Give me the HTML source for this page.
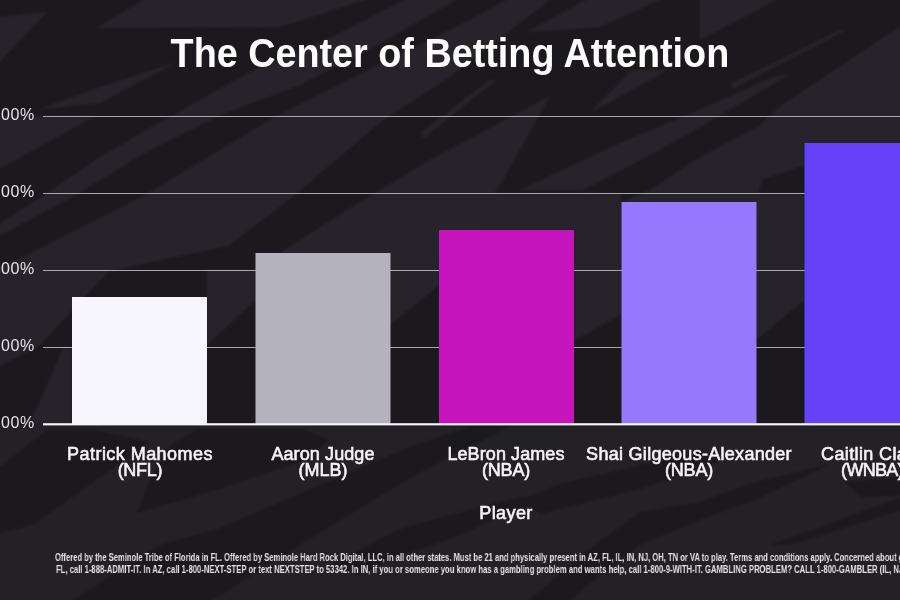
<!DOCTYPE html>
<html><head><meta charset="utf-8">
<style>
html,body{margin:0;padding:0;}
body{width:900px;height:600px;overflow:hidden;position:relative;background:#201d23;font-family:"Liberation Sans",sans-serif;color:#fff;}
#bg{position:absolute;left:0;top:0;}
.t{position:absolute;white-space:nowrap;will-change:transform;}
.title{left:0;width:900px;top:33px;font-size:40px;line-height:40px;font-weight:bold;text-align:center;color:#fcfcfd;}
.title span{display:inline-block;transform:scaleX(0.944);transform-origin:center;}
.ylab{position:absolute;will-change:transform;left:-59.5px;letter-spacing:0.7px;width:94px;font-size:16px;line-height:16px;color:#e4e3e6;text-align:right;}
.xl{position:absolute;will-change:transform;width:300px;font-size:18px;line-height:18px;text-align:center;color:#f4f3f6;-webkit-text-stroke:0.6px #f4f3f6;}
.foot{position:absolute;will-change:transform;white-space:nowrap;font-size:10px;line-height:10px;color:#e4e2e7;font-weight:bold;transform-origin:left top;}
</style></head><body>
<svg id="bg" width="900" height="600" viewBox="0 0 900 600">
<g id="streaks" fill="#26232a" style="filter:blur(1.2px)">
<polygon points="-8,-8 908,-8 908,424 -8,424" fill="#1c191e"/>
<polygon points="-8,426 908,426 908,608 -8,608" fill="#232026"/>
<polygon points="-8,17.5 47,12 -8,70"/>
<polygon points="96,28 157,-8 388,-8 280,27"/>
<polygon points="37,110 100,87 177,62 100,103"/>
<polygon points="-8,116 95,116 -8,173"/>
<polygon points="-8,228 42,197 100,157 150,128 250,72 330,38 420,-8 470,-8 372,48 300,85 225,113 150,150 72,197 -8,240"/>
<polygon points="17,260 145,195 273,118 372,68 470,20 520,-8 560,-8 450,77 383,120 290,199 228,246 150,262 108,272 40,345 -8,370 -8,270"/>
<polygon points="63,348 72,348 72,424 30,424"/>
<polygon points="-8,330 22,330 -8,367"/>
<polygon points="255,269 347,210 430,160 550,96 503,180 480,215 470,240 439,260 439,285 390,325 390,300"/>
<polygon points="207,270 255,270 255,300 207,345"/>
<polygon points="574,205 600,193 621,193 621,314 574,341"/>
<polygon points="756,193 804,193 804,300 756,340"/>
<polygon points="527,32 600,-8 677,-8 600,27"/>
<polygon points="700,40 791,-8 700,-8"/>
<polygon points="420,133 490,80 496,80 424,138"/>
<polygon points="590,113 632,70 668,70"/>
<polygon points="520,190 620,143 690,114 770,78 790,74 690,133 650,155 583,190"/>
<polygon points="621,202 650,190 690,163 760,125 782,105 908,21 908,143 804,143 804,165 762,180 756,202"/>
<polygon points="730,84 840,30 846,30 734,88"/>
<polygon points="470,193 600,193 574,205 574,230 439,230 439,260 470,240"/>
<polygon points="-8,473 47,430 93,430 150,442 33,525 -8,535" fill="#1c191e"/>
<polygon points="137,513 150,480 170,445 200,428 300,428 330,440 300,462 210,492" fill="#1c191e"/>
<polygon points="60,608 160,545 220,528 320,485 410,447 470,426 510,426 410,478 370,502 300,545 200,608" fill="#1c191e"/>
<polygon points="330,565 400,529 450,515 520,497 540,500 450,539 400,556 360,575" fill="#1c191e"/>
<polygon points="540,514 640,489 720,462 700,450 620,470 560,484 520,500" fill="#1c191e"/>
<polygon points="588,550 640,512 700,502 748,484 830,464 760,498 700,520 640,545 600,575 560,608 520,608" fill="#1c191e"/>
<polygon points="845,482 908,476 908,495 860,497" fill="#1c191e"/>
<polygon points="770,545 908,495 908,508 790,545" fill="#1c191e"/>
</g>
<g fill="#aaa7ad">
<rect x="43" y="116" width="857" height="1"/>
<rect x="43" y="193" width="857" height="1"/>
<rect x="43" y="270" width="857" height="1"/>
<rect x="43" y="347" width="857" height="1"/>
</g>
<rect x="72" y="297" width="135" height="127" fill="#f7f6fc"/>
<rect x="255.5" y="253" width="135" height="171" fill="#b4b3bd"/>
<rect x="439" y="230" width="135" height="194" fill="#c715bd"/>
<rect x="621.5" y="202" width="135" height="222" fill="#9479fe"/>
<rect x="804.5" y="143" width="135" height="281" fill="#6541f7"/>
<rect x="43" y="423.2" width="857" height="2.2" fill="#f6f5f8"/>
</svg>

<div class="t title"><span>The Center of Betting Attention</span></div>

<div class="ylab" style="top:107.2px">00%</div>
<div class="ylab" style="top:184.25px">00%</div>
<div class="ylab" style="top:261.3px">00%</div>
<div class="ylab" style="top:338.35px">00%</div>
<div class="ylab" style="top:415.4px">00%</div>

<div class="xl" style="left:-10.15px;top:445px;letter-spacing:0.45px">Patrick Mahomes</div>
<div class="xl" style="left:-10.2px;top:461.3px;letter-spacing:-0.25px">(NFL)</div>
<div class="xl" style="left:173px;top:445px;letter-spacing:0.1px">Aaron Judge</div>
<div class="xl" style="left:172.8px;top:461.3px">(MLB)</div>
<div class="xl" style="left:356.3px;top:445px;letter-spacing:0.09px">LeBron James</div>
<div class="xl" style="left:356.15px;top:461.3px;letter-spacing:-0.17px">(NBA)</div>
<div class="xl" style="left:539.15px;top:445px;letter-spacing:0.29px">Shai Gilgeous-Alexander</div>
<div class="xl" style="left:538.65px;top:461.3px;letter-spacing:-0.17px">(NBA)</div>
<div class="xl" style="left:722px;top:445px;letter-spacing:0.38px">Caitlin Clark</div>
<div class="xl" style="left:722px;top:461.3px;letter-spacing:-0.7px">(WNBA)</div>

<div class="xl" style="left:356.3px;top:504.3px;letter-spacing:0.4px">Player</div>

<div class="foot" style="left:54.7px;top:552.6px;transform:scaleX(0.7606)">Offered by the Seminole Tribe of Florida in FL. Offered by Seminole Hard Rock Digital, LLC, in all other states. Must be 21 and physically present in AZ, FL, IL, IN, NJ, OH, TN or VA to play. Terms and conditions apply. Concerned about gambling?</div>
<div class="foot" style="left:55.8px;top:565.3px;transform:scaleX(0.768)">FL, call 1-888-ADMIT-IT. In AZ, call 1-800-NEXT-STEP or text NEXTSTEP to 53342. In IN, if you or someone you know has a gambling problem and wants help, call 1-800-9-WITH-IT. GAMBLING PROBLEM? CALL 1-800-GAMBLER (IL, NJ, OH, TN, VA).</div>
</body></html>
